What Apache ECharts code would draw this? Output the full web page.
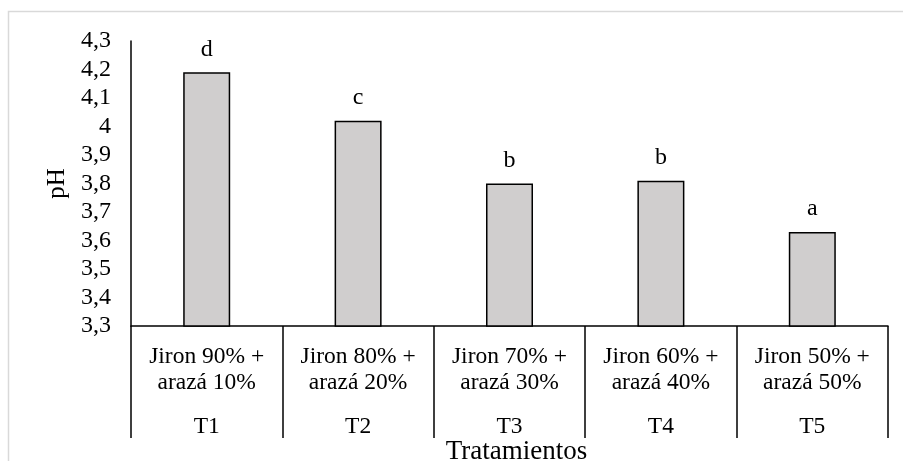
<!DOCTYPE html>
<html>
<head>
<meta charset="utf-8">
<script src="https://cdn.jsdelivr.net/npm/echarts@6/dist/echarts.min.js"></script>
<style>
  html, body { margin: 0; padding: 0; background: #fff; }
  #chart { width: 903px; height: 461px; }
</style>
</head>
<body>
<div id="chart"></div>
<script>
// datos
const tratamientos = ['Jiron 90% +\narazá 10%', 'Jiron 80% +\narazá 20%', 'Jiron 70% +\narazá 30%', 'Jiron 60% +\narazá 40%', 'Jiron 50% +\narazá 50%']
const codigos = ['T1', 'T2', 'T3', 'T4', 'T5']
const phValores = [4.19, 4.02, 3.80, 3.81, 3.63]
const letras = ['d', 'c', 'b', 'b', 'a']

const fuente = '"Liberation Serif", "Times New Roman", serif'
const chart = echarts.init(document.getElementById('chart'))

// estilo comun para los textos de los ejes
const txt = { color: '#000', fontFamily: fuente, fontSize: 23.5, lineHeight: 26 }

const option = {
  animation: false,
  textStyle: { fontFamily: fuente },
  grid: { left: 131, top: 41, right: 15, bottom: 135, outerBoundsMode: 'none' },
  graphic: [
    {
      type: 'rect',
      shape: { x: 8.5, y: 11.5, width: 1000, height: 1000 },
      style: { fill: 'none', stroke: '#d9d9d9', lineWidth: 1.5 },
      silent: true
    }
  ],
  xAxis: [
    {
      type: 'category',
      data: tratamientos,
      position: 'bottom',
      axisLine: { lineStyle: { color: '#000', width: 1.5 } },
      axisTick: { show: true, interval: 0, length: 112, lineStyle: { color: '#000', width: 1.5 } },
      axisLabel: { interval: 0, margin: 18, ...txt },
      name: 'Tratamientos',
      nameLocation: 'middle',
      nameGap: 112,
      nameTextStyle: { color: '#000', fontFamily: fuente, fontSize: 27, padding: [0, 0, 0, 14] }
    },
    {
      type: 'category',
      data: codigos,
      position: 'bottom',
      axisLine: { show: false },
      axisTick: { show: false },
      axisLabel: { interval: 0, margin: 88, ...txt }
    }
  ],
  yAxis: {
    type: 'value',
    min: 3.3,
    max: 4.3,
    interval: 0.1,
    splitLine: { show: false },
    axisLine: { show: true, lineStyle: { color: '#000', width: 1.5 } },
    axisTick: { show: false },
    axisLabel: {
      margin: 20,
      color: '#000',
      fontFamily: fuente,
      fontSize: 24,
      formatter: v => String(+v.toFixed(1)).replace('.', ',')
    },
    name: 'pH',
    nameLocation: 'middle',
    nameRotate: 90,
    nameGap: 55,
    nameTextStyle: { color: '#000', fontFamily: fuente, fontSize: 25 }
  },
  series: [
    {
      type: 'bar',
      xAxisIndex: 0,
      data: phValores,
      barWidth: 47,
      itemStyle: { color: '#d0cece', borderColor: '#000', borderWidth: 1.5 },
      label: {
        show: true,
        position: 'top',
        distance: 11,
        color: '#000',
        fontFamily: fuente,
        fontSize: 24,
        formatter: p => letras[p.dataIndex]
      }
    }
  ]
}

chart.setOption(option)
</script>
</body>
</html>
